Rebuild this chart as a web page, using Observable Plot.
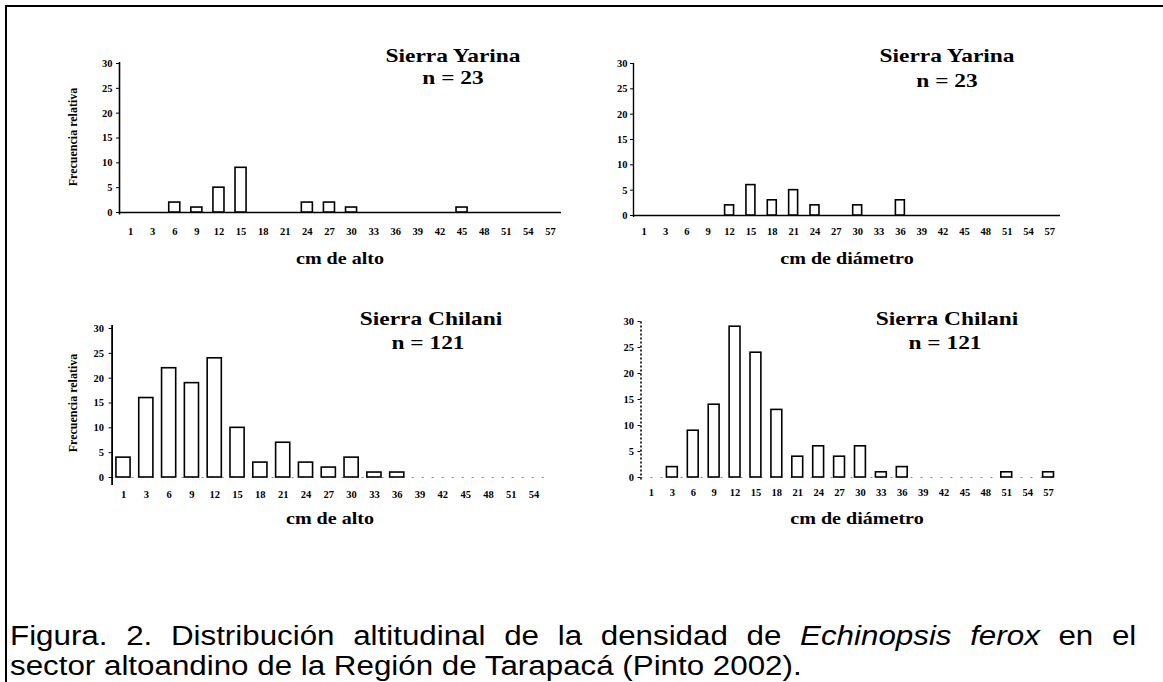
<!DOCTYPE html>
<html><head><meta charset="utf-8">
<script src="https://cdn.jsdelivr.net/npm/d3@7"></script>
<script src="https://cdn.jsdelivr.net/npm/@observablehq/plot@0.6"></script>
<style>
html,body{margin:0;padding:0;background:#fff;}
#page{position:relative;width:1163px;height:682px;overflow:hidden;background:#fff;}
.frame{position:absolute;left:5px;top:5px;right:-10px;bottom:-10px;border-left:2px solid #000;border-top:2px solid #000;}
.chart{position:absolute;}
.lbl{position:absolute;font-family:"Liberation Serif",serif;font-weight:bold;white-space:nowrap;line-height:1;color:#000;}
.title{font-size:19.5px;transform:translate(-50%,-50%) scaleX(1.2);}
.xlab{font-size:17px;transform:translate(-50%,-50%) scaleX(1.18);}
.ylab{font-size:12px;transform:translate(-50%,-50%) rotate(-90deg);}
.capline{position:absolute;left:10px;width:971px;height:30px;font-family:"Liberation Sans",Arial,sans-serif;font-size:27px;line-height:30px;color:#000;white-space:nowrap;transform:scaleX(1.16);transform-origin:0 0;}
#cap1{top:621px;text-align:justify;text-align-last:justify;white-space:normal;}
#cap2{top:651px;text-align:left;}
</style></head>
<body><div id="page"><div class="frame"></div></div>
<script>
// ---- data ----
const classes20 = ["1","3","6","9","12","15","18","21","24","27","30","33","36","39","42","45","48","51","54","57"];
const classes19 = ["1","3","6","9","12","15","18","21","24","27","30","33","36","39","42","45","48","51","54"];
const yarinaAlto  = [0,0,2,1,5,9,0,0,2,2,1,0,0,0,0,1,0,0,0,0];
const yarinaDiam  = [0,0,0,0,2,6,3,5,2,0,2,0,3,0,0,0,0,0,0,0];
const chilaniAlto = [4,16,22,19,24,10,3,7,3,2,4,1,1,0,0,0,0,0,0];
const chilaniDiam = [0,2,9,14,29,24,13,4,6,4,6,1,2,0,0,0,0,1,0,1];
const yTicks = [0,5,10,15,20,25,30];
const sites = ["Sierra Yarina","Sierra Chilani"];
const nLabels = ["n = 23","n = 121"];
const xLabels = ["cm de alto","cm de diámetro"];
const yLabel = "Frecuencia relativa";
const captionLine1 = "Figura. 2. Distribución altitudinal de la densidad de <i>Echinopsis ferox</i> en el";
const captionLine2 = "sector altoandino de la Región de Tarapacá (Pinto 2002).";

const page = document.getElementById("page");

function chart(o) {
  const data = o.values.map((v, i) => ({i, v}));
  const n = o.labels.length;
  const marks = [];
  if (o.baseline === "solid") {
    marks.push(Plot.ruleY([0], {stroke: "black", strokeWidth: 1.5}));
  } else {
    marks.push(Plot.ruleY([0], {stroke: "#888", strokeWidth: 1, strokeDasharray: "2,8"}));
  }
  marks.push(Plot.rect(data.filter(d => d.v > 0), {
    x1: d => d.i - o.half, x2: d => d.i + o.half, y1: 0, y2: "v",
    fill: "white", stroke: "black", strokeWidth: 1.6
  }));
  marks.push(Plot.ruleX([-0.5], {y1: o.axisY1, y2: o.axisY2, stroke: "black", strokeWidth: o.axisW, strokeDasharray: o.axisDash}));
  marks.push(Plot.axisX({ticks: o.labels.map((_, i) => i), tickFormat: i => o.labels[i], tickSize: 0, tickPadding: o.padX, label: null}));
  marks.push(Plot.axisY({ticks: yTicks, tickSize: 3, tickPadding: o.padY, label: null}));
  const svg = Plot.plot({
    width: o.width, height: o.height,
    marginLeft: o.mL, marginRight: o.mR, marginTop: o.mT, marginBottom: o.mB,
    x: {type: "linear", domain: [-0.5, n - 0.5]},
    y: {domain: [0, 30]},
    style: {fontFamily: "'Liberation Serif', serif", fontWeight: "bold", fontSize: "10.5px", background: "transparent", color: "black"},
    marks
  });
  svg.classList.add("chart");
  svg.style.left = o.left + "px";
  svg.style.top = o.top + "px";
  page.appendChild(svg);
}

function label(text, cls, x, y) {
  const d = document.createElement("div");
  d.className = "lbl " + cls;
  d.textContent = text;
  d.style.left = x + "px";
  d.style.top = y + "px";
  page.appendChild(d);
}

// top-left
chart({labels: classes20, values: yarinaAlto, left: 0, top: 30, width: 580, height: 250,
  mL: 119, mR: 19, mT: 33, mB: 68, half: 0.25, axisY1: -0.5, axisY2: 30.2, axisW: 1.6, axisDash: null,
  baseline: "solid", padX: 15, padY: 4});
// top-right
chart({labels: classes20, values: yarinaDiam, left: 580, top: 30, width: 583, height: 250,
  mL: 53, mR: 103, mT: 33, mB: 65, half: 0.21, axisY1: -0.4, axisY2: 30, axisW: 1.4, axisDash: null,
  baseline: "solid", padX: 12, padY: 3});
// bottom-left
chart({labels: classes19, values: chilaniAlto, left: 0, top: 290, width: 580, height: 250,
  mL: 111.6, mR: 35, mT: 38, mB: 63, half: 0.31, axisY1: -1.6, axisY2: 30.6, axisW: 1.8, axisDash: null,
  baseline: "dash", padX: 13, padY: 5});
// bottom-right
chart({labels: classes20, values: chilaniDiam, left: 580, top: 290, width: 583, height: 250,
  mL: 60.5, mR: 104.5, mT: 31, mB: 63, half: 0.26, axisY1: -0.5, axisY2: 30.2, axisW: 1.6, axisDash: "2,2",
  baseline: "dash", padX: 11, padY: 4});

// titles and axis labels
label(sites[0], "title", 453, 56);
label(nLabels[0], "title", 453, 78);
label(sites[0], "title", 947, 56);
label(nLabels[0], "title", 947, 81);
label(sites[1], "title", 431, 319);
label(nLabels[1], "title", 428, 343);
label(sites[1], "title", 947, 319);
label(nLabels[1], "title", 945, 343);
label(xLabels[0], "xlab", 340, 258);
label(xLabels[1], "xlab", 847, 258);
label(xLabels[0], "xlab", 330, 518);
label(xLabels[1], "xlab", 857, 518);
label(yLabel, "ylab", 73, 137);
label(yLabel, "ylab", 73, 403);

const c1 = document.createElement("div");
c1.id = "cap1"; c1.className = "capline"; c1.innerHTML = captionLine1;
const c2 = document.createElement("div");
c2.id = "cap2"; c2.className = "capline"; c2.innerHTML = captionLine2;
page.appendChild(c1); page.appendChild(c2);
</script>
</body></html>
